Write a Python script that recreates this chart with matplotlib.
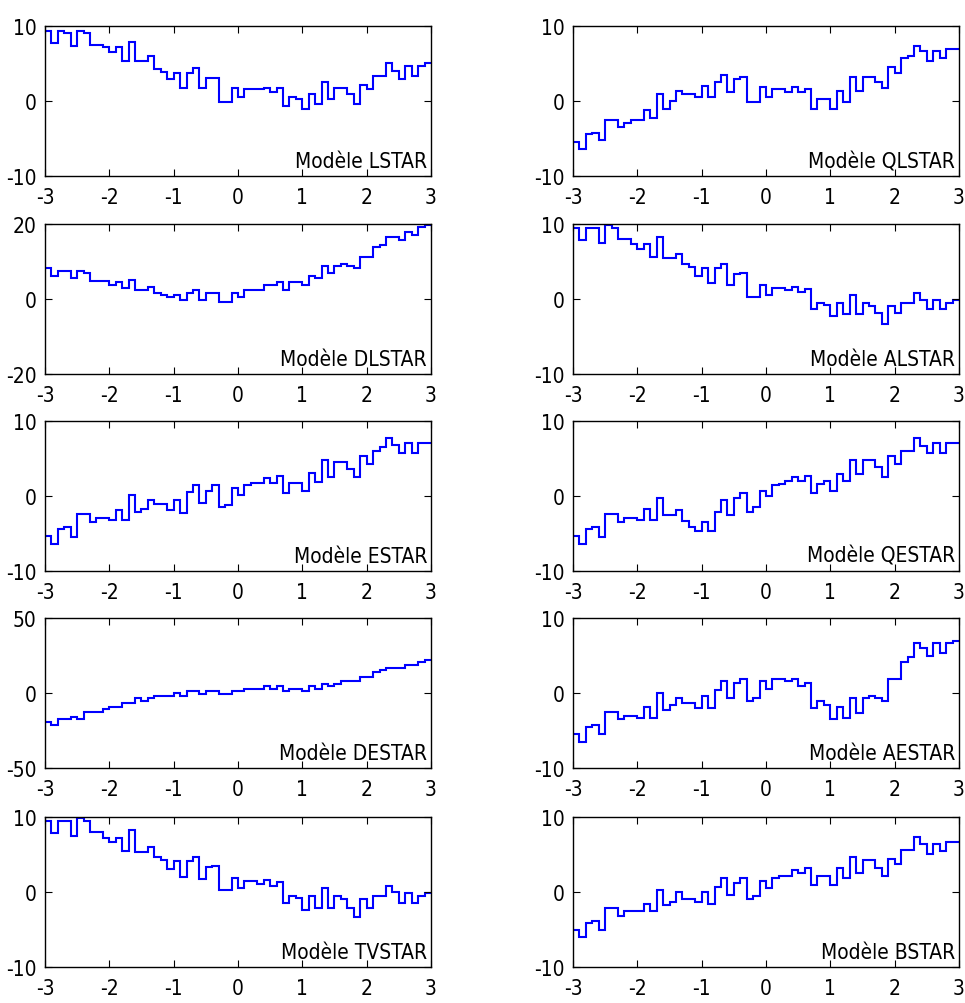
import numpy as np
import matplotlib
matplotlib.use('Agg')
from matplotlib import pyplot as plt
from matplotlib import font_manager as fm


def pick_font():
    # the reference uses a tall, narrow font: take a narrow one if it is there
    for fam, st in [('Liberation Sans Narrow', 'normal'), ('DejaVu Sans', 'condensed')]:
        try:
            p = fm.findfont(fm.FontProperties(family=fam, stretch=st), fallback_to_default=False)
            if 'Narrow' in p or 'Condensed' in p:
                return fam, st, 15, 15
        except ValueError:
            pass
    return 'Liberation Sans', 'normal', 15, 14


fam, stretch, tick_size, label_size = pick_font()
plt.rcParams['font.family'] = [fam, 'DejaVu Sans']
plt.rcParams['font.stretch'] = stretch
plt.rcParams['axes.unicode_minus'] = False

edges = np.linspace(-3, 3, 61)

lstar = [9.4, 7.8, 9.4, 9.1, 7.4, 9.4, 9.1, 7.5, 7.5, 7.2, 6.5, 7.2, 5.3, 7.9, 5.3, 5.3, 6.0, 4.3, 3.9, 3.0,
         3.8, 1.8, 3.7, 4.4, 1.8, 3.1, 3.1, -0.1, -0.1, 1.8, 0.5, 1.6, 1.6, 1.6, 1.8, 1.2, 1.8, -0.7, 0.6, 0.3,
         -1.0, 0.9, -0.4, 2.5, 0.3, 1.8, 1.8, 0.9, -0.4, 2.2, 1.6, 3.4, 3.4, 5.1, 4.0, 3.0, 4.7, 3.4, 4.7, 5.1]
qlstar = [-5.5, -6.4, -4.4, -4.2, -5.2, -2.5, -2.5, -3.5, -2.9, -2.5, -2.5, -1.2, -2.3, 0.9, -1.0, 0.0, 1.3, 0.9, 0.9, 0.6,
          2.0, 0.6, 2.5, 3.5, 1.2, 2.9, 3.2, -0.1, -0.1, 1.9, 0.5, 1.6, 1.6, 1.2, 1.9, 1.2, 1.6, -1.0, 0.3, 0.3,
          -1.0, 1.3, -0.1, 3.2, 1.3, 3.2, 3.2, 2.5, 1.8, 4.5, 3.8, 5.7, 6.0, 7.3, 6.7, 5.4, 6.7, 5.7, 7.0, 7.0]
dlstar = [8.2, 6.2, 7.5, 7.5, 5.5, 7.5, 6.9, 4.8, 4.8, 4.8, 3.6, 4.4, 3.0, 5.1, 2.4, 2.4, 3.2, 1.6, 1.0, 0.5,
          1.1, -0.2, 1.6, 2.4, -0.2, 1.6, 1.6, -0.9, -0.9, 1.6, 0.5, 2.4, 2.4, 2.4, 3.6, 3.6, 4.4, 2.4, 4.4, 4.4,
          3.6, 6.2, 5.5, 8.7, 6.9, 8.9, 9.4, 8.9, 8.2, 11.2, 11.2, 13.9, 14.5, 16.4, 16.4, 15.7, 17.8, 17.1, 19.1, 19.6]
alstar = [9.5, 7.9, 9.5, 9.5, 7.5, 9.8, 9.5, 8.0, 8.0, 7.3, 6.7, 7.3, 5.6, 8.2, 5.4, 5.4, 6.0, 4.7, 4.3, 3.1,
          4.1, 2.1, 4.1, 4.7, 1.8, 3.3, 3.5, 0.3, 0.3, 1.8, 0.5, 1.5, 1.5, 1.2, 1.6, 0.9, 1.3, -1.4, -0.5, -0.8,
          -2.3, -0.5, -2.0, 0.5, -2.0, -0.5, -1.0, -1.9, -3.3, -1.0, -1.9, -0.5, -0.5, 0.8, -0.1, -1.4, -0.1, -1.4, -0.5, -0.1]
estar = [-5.3, -6.4, -4.4, -4.1, -5.5, -2.4, -2.4, -3.5, -2.9, -2.9, -3.2, -1.9, -3.2, 0.1, -2.1, -1.8, -0.6, -1.1, -1.1, -1.9,
         -0.5, -2.3, 0.5, 1.4, -0.9, 0.7, 1.4, -1.5, -1.2, 1.0, 0.1, 1.5, 1.7, 1.7, 2.4, 1.7, 2.6, 0.4, 1.7, 1.7,
         0.6, 3.0, 1.8, 4.8, 2.5, 4.5, 4.5, 3.6, 2.5, 5.3, 4.2, 6.0, 6.5, 7.7, 6.8, 5.7, 7.1, 5.7, 7.1, 7.1]
qestar = [-5.3, -6.4, -4.4, -4.1, -5.5, -2.4, -2.4, -3.5, -2.9, -2.9, -3.2, -1.8, -3.2, -0.3, -2.5, -2.5, -1.9, -3.4, -4.1, -4.7,
          -3.5, -4.7, -2.1, -0.6, -2.6, -0.3, 0.4, -2.1, -1.5, 0.7, 0.0, 1.4, 1.6, 2.0, 2.5, 2.0, 2.6, 0.4, 1.6, 2.0,
          0.6, 2.9, 2.0, 4.8, 2.9, 4.8, 4.8, 3.9, 2.5, 5.3, 4.2, 6.0, 6.0, 7.7, 6.7, 5.7, 7.1, 5.7, 7.1, 7.1]
destar = [-19, -21, -17.5, -17.5, -16, -17.5, -12.6, -12.6, -12.6, -10.8, -9.5, -9.5, -6.3, -6.3, -3.4, -5, -3.4, -1.8, -1.8, -1.8,
          0, -1.8, 1.3, 1.3, -0.5, 1.3, 1.3, -0.5, -0.5, 1.3, 1.3, 2.7, 2.7, 2.7, 4.5, 2.7, 4.5, 1.1, 2.7, 2.7,
          1.3, 4.5, 2.7, 6.3, 4.5, 6.3, 7.9, 7.9, 7.9, 10.8, 10.8, 14, 15.7, 16.9, 16.9, 16.9, 18.4, 18.4, 20.7, 22]
aestar = [-5.5, -6.5, -4.5, -4.2, -5.5, -2.5, -2.5, -3.5, -3.0, -3.0, -3.3, -1.9, -3.3, 0.0, -2.3, -1.6, -0.7, -1.3, -1.3, -2.0,
          -0.4, -2.0, 0.4, 1.6, -0.7, 1.3, 1.9, -1.0, -0.7, 1.6, 0.5, 1.9, 1.9, 1.6, 1.9, 0.9, 1.3, -2.0, -1.0, -1.6,
          -3.5, -1.9, -3.3, -0.7, -2.6, -0.7, -0.4, -0.7, -1.0, 1.9, 1.9, 4.2, 4.8, 6.7, 6.0, 5.0, 6.7, 5.4, 6.7, 7.0]
tvstar = [9.5, 7.8, 9.5, 9.5, 7.5, 9.8, 9.5, 8.0, 8.0, 7.2, 6.6, 7.2, 5.5, 8.2, 5.3, 5.3, 6.0, 4.6, 4.3, 3.0,
          4.1, 2.0, 4.1, 4.6, 1.7, 3.3, 3.4, 0.2, 0.2, 1.8, 0.5, 1.4, 1.4, 1.1, 1.6, 0.8, 1.3, -1.5, -0.5, -0.8,
          -2.4, -0.5, -2.1, 0.5, -2.1, -0.5, -1.0, -2.1, -3.4, -1.0, -2.1, -0.5, -0.5, 0.8, 0.0, -1.5, -0.1, -1.5, -0.5, -0.1]
bstar = [-5.1, -6.0, -4.2, -3.9, -5.1, -2.2, -2.2, -3.2, -2.5, -2.5, -2.5, -1.6, -2.5, 0.3, -1.7, -1.4, 0.0, -0.9, -0.9, -1.4,
         0.0, -1.6, 0.6, 1.9, -0.4, 1.2, 1.9, -1.0, -0.6, 1.5, 0.5, 1.9, 2.1, 2.1, 2.9, 2.5, 3.2, 0.9, 2.1, 2.1,
         0.9, 3.2, 1.8, 4.7, 2.5, 4.2, 4.2, 3.2, 2.1, 4.4, 3.7, 5.6, 5.6, 7.3, 6.4, 5.0, 6.4, 5.5, 6.7, 6.7]

panels = [
    (lstar, 10, 'Modèle LSTAR'), (qlstar, 10, 'Modèle QLSTAR'),
    (dlstar, 20, 'Modèle DLSTAR'), (alstar, 10, 'Modèle ALSTAR'),
    (estar, 10, 'Modèle ESTAR'), (qestar, 10, 'Modèle QESTAR'),
    (destar, 50, 'Modèle DESTAR'), (aestar, 10, 'Modèle AESTAR'),
    (tvstar, 10, 'Modèle TVSTAR'), (bstar, 10, 'Modèle BSTAR'),
]

fig = plt.figure(figsize=(9.65, 10.04), dpi=100)

lefts = [0.0466, 0.5938]
bottoms = [0.8237, 0.6265, 0.4303, 0.234, 0.0359]
w, h = 0.40, 0.1494

for i, (vals, lim, name) in enumerate(panels):
    row, col = divmod(i, 2)
    ax = fig.add_axes([lefts[col], bottoms[row], w, h])
    ax.stairs(vals, edges, color='#0000ff', linewidth=1.5, baseline=None)
    ax.set_xlim(-3, 3)
    ax.set_ylim(-lim, lim)
    ax.set_xticks(range(-3, 4))
    ax.set_yticks([-lim, 0, lim])
    ax.tick_params(direction='in', top=True, right=True, length=5, labelsize=tick_size)
    ax.tick_params(axis='x', pad=8)
    ax.tick_params(axis='y', pad=6)
    for s in ax.spines.values():
        s.set_linewidth(1.0)
    ax.text(0.99, 0.06, name, transform=ax.transAxes, ha='right', va='baseline', fontsize=label_size)

plt.savefig('out.png', dpi=100)
